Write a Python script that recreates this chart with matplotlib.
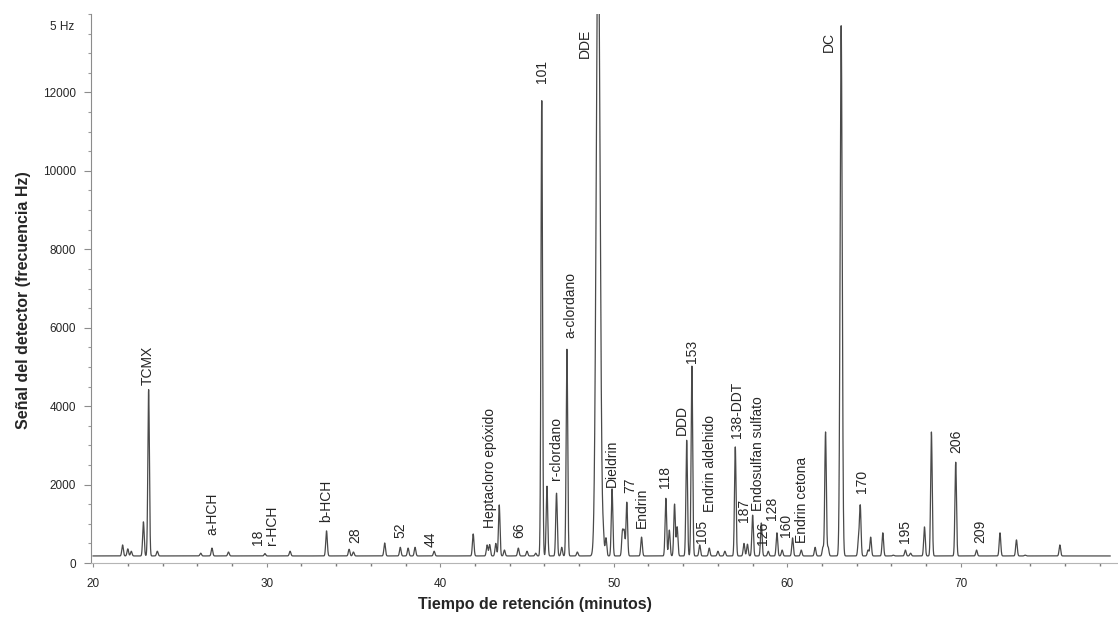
import numpy as np
import matplotlib
matplotlib.use("Agg")
import matplotlib.pyplot as plt
from matplotlib.ticker import MultipleLocator
from matplotlib.transforms import blended_transform_factory

plt.rcParams['font.family'] = ['Liberation Sans', 'DejaVu Sans']

# peak retention times (min) and apex signal (Hz)
peak_t = [21.7, 22.0, 22.2, 22.9, 23.2, 23.7, 26.2, 26.85, 27.8, 29.9,
          31.35, 33.45, 34.75, 35.0, 36.8, 37.7, 38.15, 38.55, 39.65, 41.9,
          42.7, 42.85, 43.2, 43.4, 43.7, 44.5, 45.0, 45.5, 45.85, 46.15,
          46.7, 47.0, 47.3, 47.9, 49.1, 49.4, 49.55, 49.9, 50.5, 50.6,
          50.75, 51.6, 53.0, 53.2, 53.5, 53.65, 54.2, 54.5, 54.95, 55.5,
          56.0, 56.4, 57.0, 57.5, 57.7, 58.0, 58.5, 58.9, 59.4, 59.7,
          60.3, 60.8, 61.6, 62.05, 62.2, 62.35, 63.1, 64.1, 64.2, 64.65,
          64.8, 65.5, 66.1, 66.8, 67.1, 67.9, 68.3, 69.7, 70.9, 72.25,
          73.2, 73.7, 75.7]
peak_h = [460, 360, 300, 1050, 4420, 300, 250, 380, 280, 240,
          300, 820, 350, 280, 510, 400, 380, 400, 300, 740,
          460, 470, 500, 1480, 330, 380, 300, 250, 11800, 1960,
          1780, 400, 5450, 280, 16500, 580, 640, 1890, 800, 790,
          1550, 660, 1650, 840, 1500, 920, 3130, 5020, 460, 380,
          300, 300, 2960, 500, 480, 1220, 1020, 300, 770, 330,
          640, 330, 400, 400, 3340, 400, 13700, 580, 1450, 330,
          660, 770, 200, 330, 250, 920, 3340, 2570, 330, 770,
          590, 200, 460]
# broader peaks (DDE, DC) get their own width
wide_peaks = {49.1: 0.11, 63.1: 0.06}
baseline = 180
run_start, run_end = 20.0, 78.6

# compound labels: name, retention time, signal at the base of the text
labels = [
    ("TCMX", 23.17, 4535), ("a-HCH", 26.85, 713), ("18", 29.5, 459),
    ("r-HCH", 30.31, 459), ("b-HCH", 33.42, 1045), ("28", 35.09, 510),
    ("52", 37.68, 637), ("44", 39.47, 408), ("Heptacloro epóxido", 42.87, 892),
    ("66", 44.54, 637), ("101", 45.86, 12229), ("r-clordano", 46.67, 2115),
    ("a-clordano", 47.48, 5732), ("DDE", 48.34, 12866), ("Dieldrin", 49.9, 1936),
    ("77", 50.93, 1783), ("Endrin", 51.62, 892), ("118", 52.95, 1911),
    ("DDD", 53.93, 3261), ("153", 54.5, 5096), ("105", 55.07, 510),
    ("Endrin aldehido", 55.53, 1299), ("138-DDT", 57.09, 3185), ("187", 57.5, 1045),
    ("Endosulfan sulfato", 58.3, 1330), ("126", 58.58, 470), ("128", 59.12, 1085),
    ("160", 59.92, 662), ("Endrin cetona", 60.84, 510), ("DC", 62.4, 13019),
    ("170", 64.3, 1783), ("195", 66.77, 510), ("206", 69.71, 2803),
    ("209", 71.09, 510),
]

# build the detector trace from the peak table
t = np.arange(run_start, run_end, 0.004)
signal = np.full_like(t, baseline, dtype=float)
for tp, hp in zip(peak_t, peak_h):
    s = wide_peaks.get(tp, 0.045)
    signal += (hp - baseline) * np.exp(-0.5 * ((t - tp) / s) ** 2)

fig = plt.figure(figsize=(11.18, 6.23), dpi=100)
ax = fig.add_axes([91 / 1118, 60 / 623, 1027 / 1118, 549 / 623])

ax.plot(t, signal, color='#4a4a4a', lw=0.9)

ax.set_xlim(19.88, 79.05)
ax.set_ylim(0, 14000)

txt_color = '#262626'
for name, tl, yl in labels:
    ax.text(tl, yl, name, rotation=90, ha='center', va='bottom',
            fontsize=10, color=txt_color)

for side in ('top', 'right'):
    ax.spines[side].set_visible(False)
ax.spines['left'].set_color('#8c8c8c')
ax.spines['left'].set_linewidth(0.8)
ax.spines['bottom'].set_color('#b5b5b5')
ax.spines['bottom'].set_linewidth(0.8)

ax.set_yticks(np.arange(0, 12001, 2000))
ax.yaxis.set_minor_locator(MultipleLocator(500))
ax.set_xticks([20, 30, 40, 50, 60, 70])
ax.xaxis.set_minor_locator(MultipleLocator(2))
ax.tick_params(axis='y', which='major', length=5, width=0.8, color='#8c8c8c',
               pad=6, labelsize=8.5, labelcolor=txt_color)
ax.tick_params(axis='y', which='minor', length=2, width=0.8, color='#9a9a9a')
ax.tick_params(axis='x', which='major', length=3, width=0.8, color='#8c8c8c',
               pad=8, labelsize=8.5, labelcolor=txt_color)
ax.tick_params(axis='x', which='minor', length=2, width=1.0, color='#7a7a7a')

# unit marker at the top of the signal axis
trans = blended_transform_factory(ax.transAxes, ax.transData)
ax.text(-0.016, 13656, "5 Hz", transform=trans, ha='right', va='center',
        fontsize=8.5, color=txt_color)

ax.set_xlabel("Tiempo de retención (minutos)", fontsize=11.5, fontweight='bold',
              color=txt_color)
ax.set_ylabel("Señal del detector (frecuencia Hz)", fontsize=11.5, fontweight='bold',
              color=txt_color)
ax.xaxis.set_label_coords(0.432, -0.062)
ax.yaxis.set_label_coords(-0.058, 0.479)

fig.savefig("out.png", dpi=100)
